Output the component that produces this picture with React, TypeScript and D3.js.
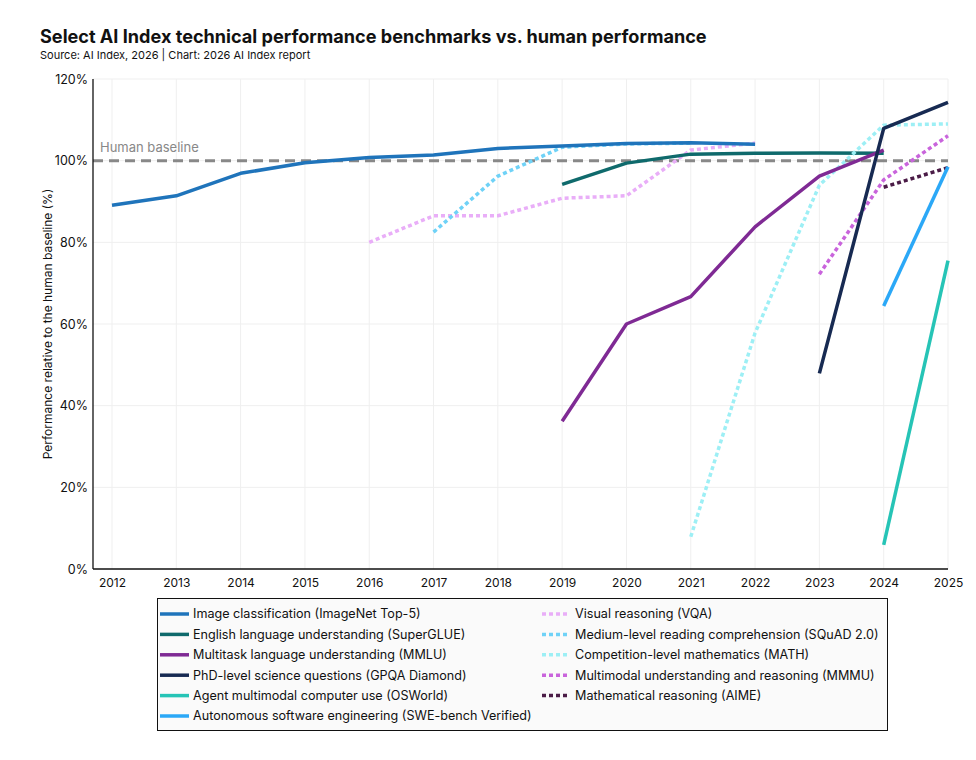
import * as React from "react";
import * as d3 from "d3";

// tick labels
const yearTicks = [2012, 2013, 2014, 2015, 2016, 2017, 2018, 2019, 2020, 2021, 2022, 2023, 2024, 2025];
const pctTicks = [0, 20, 40, 60, 80, 100, 120];

// series values (percent of human baseline)
const imagenetYears = [2012, 2013, 2014, 2015, 2016, 2017, 2018, 2019, 2020, 2021, 2022];
const imagenetValues = [89.1, 91.4, 96.9, 99.5, 100.8, 101.4, 103.0, 103.6, 104.2, 104.4, 104.0];

const supergluYears = [2019, 2020, 2021, 2022, 2023, 2024];
const supergluValues = [94.2, 99.4, 101.6, 101.8, 101.9, 101.8];

const mmluYears = [2019, 2020, 2021, 2022, 2023, 2024];
const mmluValues = [36.2, 60.0, 66.7, 83.8, 96.2, 102.6];

const gpqaYears = [2023, 2024, 2025];
const gpqaValues = [47.9, 107.9, 114.3];

const osworldYears = [2024, 2025];
const osworldValues = [5.9, 75.5];

const swebenchYears = [2024, 2025];
const swebenchValues = [64.4, 98.5];

const vqaYears = [2016, 2017, 2018, 2019, 2020, 2021, 2022];
const vqaValues = [80.0, 86.5, 86.5, 90.8, 91.4, 102.6, 104.3];

const squadYears = [2017, 2018, 2019, 2020, 2021];
const squadValues = [82.5, 96.2, 103.3, 104.1, 104.3];

const mathYears = [2021, 2022, 2023, 2024, 2025];
const mathValues = [7.9, 57.8, 94.0, 108.7, 109.0];

const mmmuYears = [2023, 2024, 2025];
const mmmuValues = [72.2, 95.3, 106.1];

const aimeYears = [2024, 2025];
const aimeValues = [93.5, 98.3];

interface Point {
  year: number;
  value: number;
}

interface Series {
  name: string;
  color: string;
  dotted: boolean;
  values: Point[];
}

const zip = (years: number[], values: number[]): Point[] =>
  years.map((year, i) => ({ year, value: values[i] }));

const series: Series[] = [
  { name: "Image classification (ImageNet Top-5)", color: "#1f74bb", dotted: false, values: zip(imagenetYears, imagenetValues) },
  { name: "English language understanding (SuperGLUE)", color: "#0f6a6c", dotted: false, values: zip(supergluYears, supergluValues) },
  { name: "Multitask language understanding (MMLU)", color: "#7f2a94", dotted: false, values: zip(mmluYears, mmluValues) },
  { name: "PhD-level science questions (GPQA Diamond)", color: "#172a52", dotted: false, values: zip(gpqaYears, gpqaValues) },
  { name: "Agent multimodal computer use (OSWorld)", color: "#26c4b6", dotted: false, values: zip(osworldYears, osworldValues) },
  { name: "Autonomous software engineering (SWE-bench Verified)", color: "#2ba8f7", dotted: false, values: zip(swebenchYears, swebenchValues) },
  { name: "Visual reasoning (VQA)", color: "#e9aef8", dotted: true, values: zip(vqaYears, vqaValues) },
  { name: "Medium-level reading comprehension (SQuAD 2.0)", color: "#6fd2f7", dotted: true, values: zip(squadYears, squadValues) },
  { name: "Competition-level mathematics (MATH)", color: "#9deff5", dotted: true, values: zip(mathYears, mathValues) },
  { name: "Multimodal understanding and reasoning (MMMU)", color: "#c964dc", dotted: true, values: zip(mmmuYears, mmmuValues) },
  { name: "Mathematical reasoning (AIME)", color: "#4b1c47", dotted: true, values: zip(aimeYears, aimeValues) },
];

// draw order: back to front as in the picture
const drawOrder = [6, 7, 0, 1, 8, 2, 9, 10, 3, 5, 4];

function drawChart(svgEl: SVGSVGElement) {
  const svg = d3.select(svgEl);
  svg.selectAll("*").remove();
  const font = "Inter, 'Noto Sans', sans-serif";

  const left = 93;
  const top = 79;
  const bottom = 569;
  const right = 948;

  const x = d3.scaleLinear().domain([2012, 2025]).range([112, right]);
  const y = d3.scaleLinear().domain([0, 120]).range([bottom, top]);

  svg.attr("width", 976).attr("height", 760).style("font-family", font);

  svg.append("rect").attr("width", 976).attr("height", 760).attr("fill", "#fff");

  // title
  svg
    .append("text")
    .attr("x", 40)
    .attr("y", 43)
    .attr("font-size", 18.1)
    .attr("font-weight", 700)
    .attr("fill", "#111")
    .text("Select AI Index technical performance benchmarks vs. human performance");
  svg
    .append("text")
    .attr("x", 40)
    .attr("y", 59)
    .attr("font-size", 11)
    .attr("fill", "#111")
    .text("Source: AI Index, 2026 | Chart: 2026 AI Index report");

  // grid
  const grid = svg.append("g");
  grid
    .selectAll("line.v")
    .data(yearTicks)
    .enter()
    .append("line")
    .attr("x1", (d) => x(d))
    .attr("x2", (d) => x(d))
    .attr("y1", top)
    .attr("y2", bottom)
    .attr("stroke", "#efefef")
    .attr("stroke-width", 1);
  grid
    .selectAll("line.h")
    .data(pctTicks.filter((d) => d > 0))
    .enter()
    .append("line")
    .attr("x1", left)
    .attr("x2", right)
    .attr("y1", (d) => y(d))
    .attr("y2", (d) => y(d))
    .attr("stroke", "#efefef")
    .attr("stroke-width", 1);

  // axes
  const xAxis = d3
    .axisBottom(x)
    .tickValues(yearTicks)
    .tickFormat(d3.format("d"))
    .tickSize(0)
    .tickPadding(9);
  const gx = svg
    .append("g")
    .attr("transform", `translate(0, ${bottom})`)
    .call(xAxis);
  gx.select(".domain").remove();
  gx.selectAll("text").attr("font-size", 12).attr("font-family", font).attr("fill", "#111");

  const yAxis = d3
    .axisLeft(y)
    .tickValues(pctTicks)
    .tickFormat((d) => `${d}%`)
    .tickSize(0)
    .tickPadding(5);
  const gy = svg
    .append("g")
    .attr("transform", `translate(${left}, 0)`)
    .call(yAxis);
  gy.select(".domain").remove();
  gy.selectAll("text").attr("font-size", 12.5).attr("font-family", font).attr("fill", "#111");

  svg
    .append("text")
    .attr("transform", `translate(52, ${(top + bottom) / 2}) rotate(-90)`)
    .attr("text-anchor", "middle")
    .attr("font-size", 12)
    .attr("fill", "#111")
    .text("Performance relative to the human baseline (%)");

  // human baseline
  svg
    .append("line")
    .attr("x1", left)
    .attr("x2", right)
    .attr("y1", y(100))
    .attr("y2", y(100))
    .attr("stroke", "#888")
    .attr("stroke-width", 3)
    .attr("stroke-dasharray", "10,6");
  svg
    .append("text")
    .attr("x", 100)
    .attr("y", y(100) - 9)
    .attr("font-size", 13)
    .attr("fill", "#888")
    .text("Human baseline");

  // lines
  const line = d3
    .line<Point>()
    .x((d) => x(d.year))
    .y((d) => y(d.value));

  svg
    .append("g")
    .selectAll("path")
    .data(drawOrder.map((i) => series[i]))
    .enter()
    .append("path")
    .attr("d", (d) => line(d.values))
    .attr("fill", "none")
    .attr("stroke", (d) => d.color)
    .attr("stroke-width", 3.5)
    .attr("stroke-dasharray", (d) => (d.dotted ? "4,3" : null))
    .attr("stroke-linejoin", "round");

  // axis lines on top
  svg.append("line").attr("x1", left).attr("x2", left).attr("y1", top).attr("y2", bottom).attr("stroke", "#111").attr("stroke-width", 1.3);
  svg.append("line").attr("x1", left).attr("x2", right).attr("y1", bottom).attr("y2", bottom).attr("stroke", "#111").attr("stroke-width", 1.3);

  // legend
  const legend = svg.append("g");
  legend
    .append("rect")
    .attr("x", 157.5)
    .attr("y", 598.5)
    .attr("width", 730)
    .attr("height", 132)
    .attr("fill", "#fafafa")
    .attr("stroke", "#111")
    .attr("stroke-width", 1);

  const rowY = d3.scaleLinear().domain([0, 5]).range([614, 716]);
  const items = legend
    .selectAll("g.item")
    .data(series)
    .enter()
    .append("g")
    .attr("transform", (d, i) => {
      const col = d.dotted ? 1 : 0;
      const row = d.dotted ? i - 6 : i;
      return `translate(${col ? 542 : 160}, ${rowY(row)})`;
    });
  items
    .append("line")
    .attr("x1", 0)
    .attr("x2", (d) => (d.dotted ? 28 : 29))
    .attr("y1", 0)
    .attr("y2", 0)
    .attr("stroke", (d) => d.color)
    .attr("stroke-width", 3.5)
    .attr("stroke-dasharray", (d) => (d.dotted ? "4,3" : null));
  items
    .append("text")
    .attr("x", 33)
    .attr("y", 0)
    .attr("dy", "0.35em")
    .attr("font-size", 12.6)
    .attr("fill", "#111")
    .text((d) => d.name);
}

export default function App() {
  const ref = React.useRef<SVGSVGElement>(null);
  React.useEffect(() => {
    if (ref.current) drawChart(ref.current);
  }, []);
  return (
    <svg
      ref={ref}
      width={976}
      height={760}
      style={{ position: "absolute", left: 0, top: 0, display: "block" }}
    />
  );
}
